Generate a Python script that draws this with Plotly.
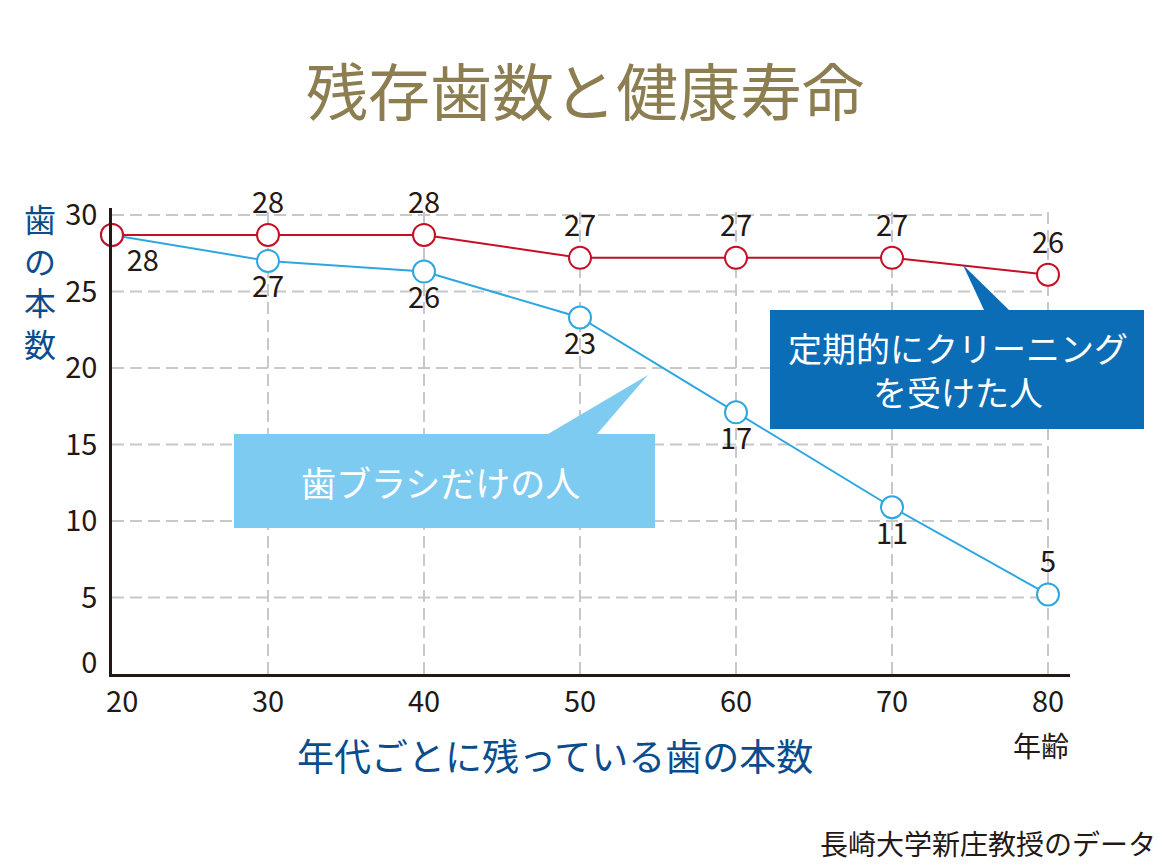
import plotly.graph_objects as go

# ---- data ----
ages = [20, 30, 40, 50, 60, 70, 80]
cleaning = [28.7, 28.7, 28.7, 27.2, 27.2, 27.2, 26.1]          # 定期的にクリーニングを受けた人
cleaning_labels = ["", "28", "28", "27", "27", "27", "26"]
brush_only = [28.7, 27.0, 26.3, 23.3, 17.1, 10.9, 5.2]          # 歯ブラシだけの人
brush_labels = ["28", "27", "26", "23", "17", "11", "5"]
x_ticks = [20, 30, 40, 50, 60, 70, 80]
x_tick_text = ["\u2002\u200920", "30", "40", "50", "60", "70", "80"]
y_ticks = [0, 5, 10, 15, 20, 25, 30]

FONT = "Noto Sans CJK JP, Noto Sans, sans-serif"
RED = "#C40F25"
BLUE = "#2EA7E0"
DARK = "#231815"
NAVY = "#0B4C8C"
GRID = "#C8C8C8"

W, H = 1162, 867
L, R, T, B = 112, 92, 208, 193
PW, PH = W - L - R, H - T - B

def px(x):
    return (x - L) / PW

def py(y):
    return (H - B - y) / PH

fig = go.Figure()

fig.add_trace(go.Scatter(
    x=ages, y=brush_only, mode="lines+markers+text",
    line=dict(color=BLUE, width=2),
    marker=dict(size=22, color="white", line=dict(color=BLUE, width=2)),
    text=brush_labels,
    textposition=["bottom right"] + ["bottom center"] * 5 + ["top center"],
    textfont=dict(family=FONT, size=29, color=DARK),
    cliponaxis=False, showlegend=False, hoverinfo="skip",
))
fig.add_trace(go.Scatter(
    x=ages, y=cleaning, mode="lines+markers+text",
    line=dict(color=RED, width=2),
    marker=dict(size=22, color="white", line=dict(color=RED, width=2)),
    text=cleaning_labels, textposition="top center",
    textfont=dict(family=FONT, size=29, color=DARK),
    cliponaxis=False, showlegend=False, hoverinfo="skip",
))

shapes = []
# dashed grid
for yv in y_ticks[1:]:
    shapes.append(dict(type="line", xref="x", yref="y", x0=x_ticks[0], x1=x_ticks[-1], y0=yv, y1=yv,
                       line=dict(color=GRID, width=2, dash="12px,6px"), layer="below"))
for xv in x_ticks[1:]:
    shapes.append(dict(type="line", xref="x", yref="paper", x0=xv, x1=xv, y0=0, y1=1,
                       line=dict(color=GRID, width=2, dash="12px,6px"), layer="below"))

def path(points):
    return "M " + " L ".join(f"{px(a):.5f},{py(b):.5f}" for a, b in points) + " Z"

shapes.append(dict(type="path", xref="paper", yref="paper",
                   path=path([(234, 434), (548, 434), (648, 375), (597, 434), (655, 434), (655, 528), (234, 528)]),
                   fillcolor="#7ECBF2", line=dict(width=0), layer="above"))
shapes.append(dict(type="path", xref="paper", yref="paper",
                   path=path([(770, 310), (984, 310), (963, 265), (1009, 310), (1144, 310), (1144, 429), (770, 429)]),
                   fillcolor="#0A6DB5", line=dict(width=0), layer="above"))

annotations = [
    dict(text="残存歯数と健康寿命", x=px(585), y=py(89), xref="paper", yref="paper",
         showarrow=False, font=dict(family=FONT, size=62, color="#8C7E50"), xanchor="center", yanchor="middle"),
    dict(text="歯<br>の<br>本<br>数", x=px(40), y=py(280), xref="paper", yref="paper",
         showarrow=False, font=dict(family=FONT, size=32, color=NAVY), xanchor="center", yanchor="middle"),
    dict(text="年代ごとに残っている歯の本数", x=px(555), y=py(755), xref="paper", yref="paper",
         showarrow=False, font=dict(family=FONT, size=37, color=NAVY), xanchor="center", yanchor="middle"),
    dict(text="年齢", x=px(1041), y=py(745), xref="paper", yref="paper",
         showarrow=False, font=dict(family=FONT, size=28, color=DARK), xanchor="center", yanchor="middle"),
    dict(text="長崎大学新庄教授のデータ", x=px(1158), y=py(843), xref="paper", yref="paper",
         showarrow=False, font=dict(family=FONT, size=28, color=DARK), xanchor="right", yanchor="middle"),
    dict(text="歯ブラシだけの人", x=px(440), y=py(481), xref="paper", yref="paper",
         showarrow=False, font=dict(family=FONT, size=35, color="white"), xanchor="center", yanchor="middle"),
    dict(text="定期的にクリーニング<br>を受けた人", x=px(958), y=py(369), xref="paper", yref="paper",
         showarrow=False, font=dict(family=FONT, size=34, color="white"), xanchor="center", yanchor="middle"),
]

# the "0" label sits slightly above the axis line in the original
y_label_pos = [max(v, 0.7) for v in y_ticks]

fig.update_layout(
    width=W, height=H,
    margin=dict(l=L, r=R, t=T, b=B),
    paper_bgcolor="white", plot_bgcolor="white",
    font=dict(family=FONT, color=DARK),
    shapes=shapes, annotations=annotations,
    xaxis=dict(range=[20, 20 + PW / 15.6], tickvals=x_ticks, ticktext=x_tick_text,
               showgrid=False, zeroline=False, showline=True, linecolor=DARK, linewidth=2.5,
               tickfont=dict(family=FONT, size=29, color=DARK), ticks="", ticklabelstandoff=0),
    yaxis=dict(range=[0, PH / 15.3], tickvals=y_label_pos, ticktext=[str(v) for v in y_ticks],
               showgrid=False, zeroline=False, showline=True, linecolor=DARK, linewidth=2.5,
               tickfont=dict(family=FONT, size=29, color=DARK), ticks="", ticklabelstandoff=6),
)

fig.write_html("out.html", config={"displayModeBar": False},
               post_script="document.body.style.margin='0';document.body.style.overflow='hidden';")
